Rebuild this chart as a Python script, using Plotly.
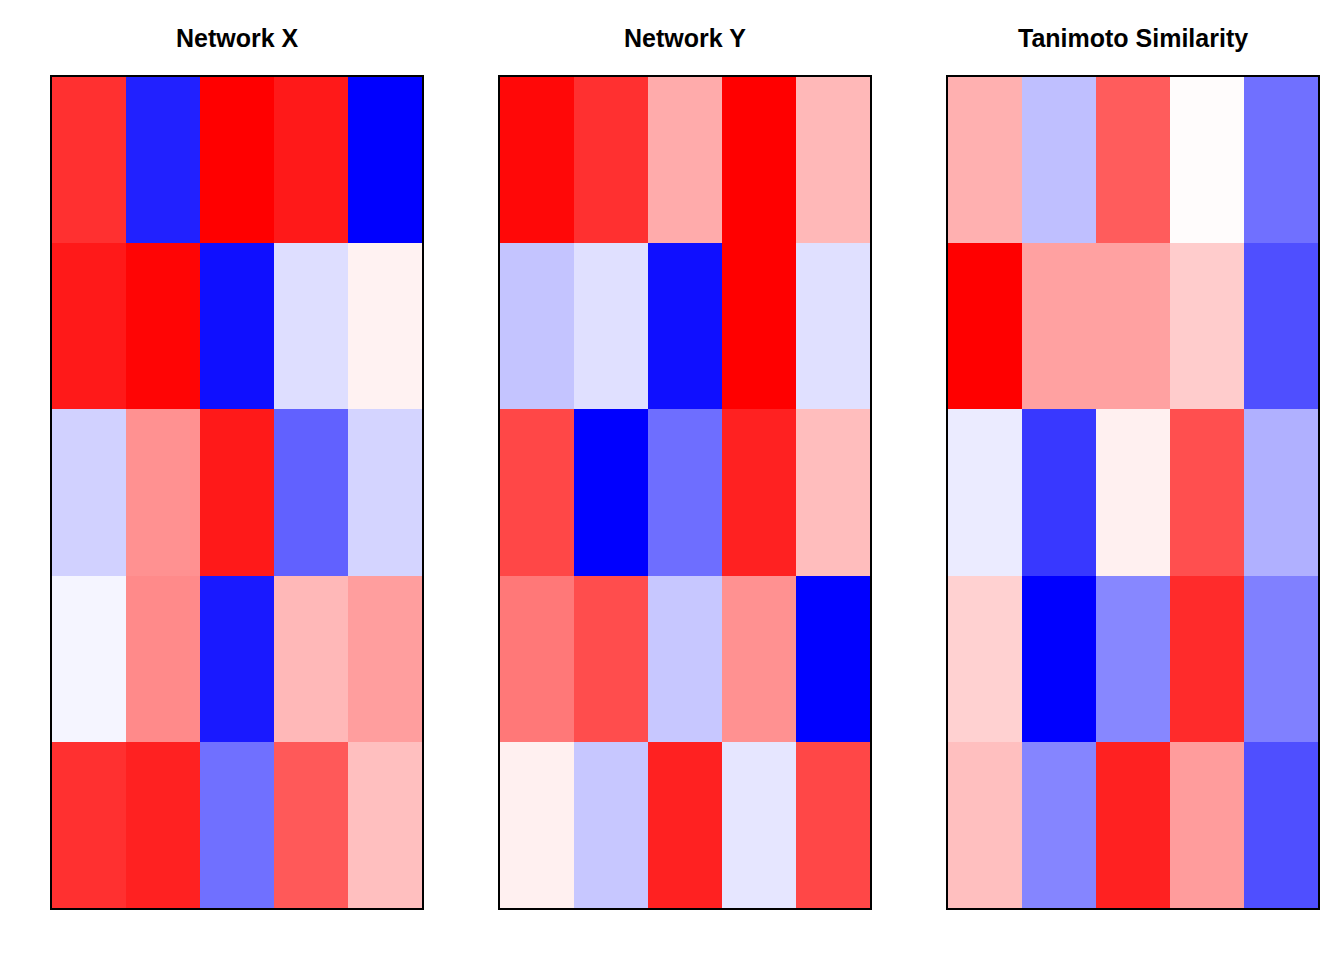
import plotly.graph_objects as go

titles = ["Network X", "Network Y", "Tanimoto Similarity"]
columns = [1, 2, 3, 4, 5]
rows = [1, 2, 3, 4, 5]

network_x = [
    [0.81, -0.87, 1.00, 0.90, -1.00],
    [0.90, 0.98, -0.94, -0.13, 0.05],
    [-0.18, 0.43, 0.90, -0.62, -0.17],
    [-0.04, 0.46, -0.90, 0.28, 0.38],
    [0.81, 0.87, -0.56, 0.65, 0.25],
]
network_y = [
    [0.97, 0.81, 0.33, 1.00, 0.28],
    [-0.23, -0.12, -0.94, 1.00, -0.12],
    [0.72, -1.00, -0.57, 0.87, 0.26],
    [0.53, 0.70, -0.22, 0.43, -1.00],
    [0.06, -0.22, 0.87, -0.10, 0.72],
]
tanimoto = [
    [0.31, -0.25, 0.64, 0.01, -0.56],
    [1.00, 0.37, 0.37, 0.20, -0.69],
    [-0.08, -0.78, 0.06, 0.69, -0.31],
    [0.18, -1.00, -0.47, 0.83, -0.50],
    [0.25, -0.48, 0.87, 0.39, -0.69],
]
panels = [network_x, network_y, tanimoto]

W, H = 1344, 960
OFF = 8  # page body margin
x_px = [(52, 422), (500, 870), (948, 1318)]
y_px = (77, 908)

colorscale = [[0.0, "rgb(0,0,255)"], [0.5, "rgb(255,255,255)"], [1.0, "rgb(255,0,0)"]]

fig = go.Figure()
for i, z in enumerate(panels):
    n = "" if i == 0 else str(i + 1)
    fig.add_trace(go.Heatmap(
        z=z, x=columns, y=rows, zmin=-1, zmax=1, colorscale=colorscale,
        showscale=False, xaxis="x" + n, yaxis="y" + n, hoverinfo="z",
    ))
    x0, x1 = x_px[i][0] - OFF, x_px[i][1] - OFF
    y0, y1 = y_px[0] - OFF, y_px[1] - OFF
    axis_common = dict(showticklabels=False, ticks="", showgrid=False, zeroline=False,
                       showline=True, mirror=True, linecolor="black", linewidth=1.5)
    fig.layout["xaxis" + n] = dict(domain=[x0 / W, x1 / W], anchor="y" + n,
                                   range=[0.5, 5.5], **axis_common)
    fig.layout["yaxis" + n] = dict(domain=[1 - y1 / H, 1 - y0 / H], anchor="x" + n,
                                   range=[5.5, 0.5], **axis_common)
    fig.add_annotation(text="<b>" + titles[i] + "</b>", xref="paper", yref="paper",
                       x=(x0 + x1) / 2 / W, y=1 - (38.5 - OFF) / H, showarrow=False,
                       xanchor="center", yanchor="middle",
                       font=dict(family="Liberation Sans", size=25, color="black"))

fig.update_layout(width=W, height=H, margin=dict(l=0, r=0, t=0, b=0),
                  paper_bgcolor="white", plot_bgcolor="white")
fig.write_html("out.html")
